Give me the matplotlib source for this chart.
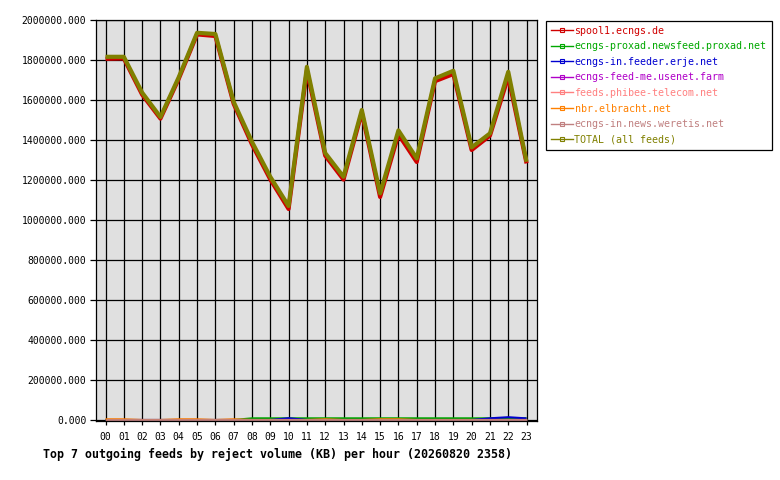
import matplotlib
matplotlib.use('Agg')
import matplotlib.pyplot as plt
from matplotlib.lines import Line2D
from matplotlib.ticker import FuncFormatter

# hourly reject volume (KB)
hours = ["00", "01", "02", "03", "04", "05", "06", "07", "08", "09", "10", "11",
         "12", "13", "14", "15", "16", "17", "18", "19", "20", "21", "22", "23"]

spool1 = [1806000, 1808000, 1627000, 1507000, 1706000, 1928000, 1920000, 1581000,
          1378000, 1203000, 1055000, 1748000, 1322000, 1202000, 1537000, 1115000,
          1428000, 1290000, 1694000, 1730000, 1350000, 1422000, 1716000, 1283000]
proxad = [0, 0, 0, 0, 0, 0, 0, 0, 8500, 8500, 8500, 8500,
          8500, 8500, 8500, 8500, 8500, 8500, 8500, 8500, 8500, 8500, 8500, 8500]
erje = [0, 0, 0, 0, 0, 0, 0, 0, 0, 0, 9000, 0,
        0, 0, 0, 0, 0, 0, 0, 0, 0, 8500, 14000, 8000]
feed_me = [0] * 24
phibee = [0] * 24
nbr = [3500, 3500, 0, 0, 3500, 3500, 0, 3500, 0, 0, 0, 0,
       3500, 0, 0, 3500, 3500, 0, 0, 0, 0, 0, 0, 0]
weretis = [500] * 24
total = [1816000, 1816000, 1637000, 1515000, 1714000, 1936000, 1930000, 1591000,
         1391000, 1216000, 1070000, 1766000, 1335000, 1216000, 1550000, 1133000,
         1448000, 1308000, 1708000, 1746000, 1363000, 1433000, 1741000, 1291000]

names = ["spool1.ecngs.de", "ecngs-proxad.newsfeed.proxad.net",
         "ecngs-in.feeder.erje.net", "ecngs-feed-me.usenet.farm",
         "feeds.phibee-telecom.net", "nbr.elbracht.net",
         "ecngs-in.news.weretis.net", "TOTAL (all feeds)"]
values = [spool1, proxad, erje, feed_me, phibee, nbr, weretis, total]
colors = ["#d00000", "#00a800", "#0000d0", "#b000c8",
          "#ff8080", "#ff8000", "#c08080", "#808000"]
widths = [3.0, 1.5, 1.5, 1.5, 1.5, 1.5, 2.0, 3.0]

title = "Top 7 outgoing feeds by reject volume (KB) per hour (20260820 2358)"

plt.rcParams['font.family'] = 'DejaVu Sans Mono'

W, H = 780, 480
fig = plt.figure(figsize=(W / 100, H / 100), dpi=100)
ax = fig.add_axes([96 / W, 1 - 421 / H, (537 - 96) / W, (421 - 20) / H])
ax.set_facecolor('#e0e0e0')

x = list(range(len(hours)))
for vals, c, lw in zip(values, colors, widths):
    ax.plot(x, vals, color=c, lw=lw, solid_capstyle='butt')

ax.set_xlim(-0.52, 23.57)
ax.set_ylim(-5000, 2000000)
ax.set_xticks(x)
ax.set_xticklabels(hours)
ax.set_yticks(range(0, 2000001, 200000))
ax.yaxis.set_major_formatter(FuncFormatter(lambda v, p: f"{v:.3f}"))

ax.set_axisbelow(True)
ax.grid(True, color='black', lw=0.9)
for s in ax.spines.values():
    s.set_color('black')
    s.set_linewidth(0.9)
ax.tick_params(axis='y', direction='out', length=4.5, width=0.9,
               labelsize=7, pad=2.5)
ax.tick_params(axis='x', direction='out', length=3, width=0.9,
               labelsize=7, pad=5)

fig.text(43 / W, 1 - 454 / H, title, fontsize=8.35, weight='bold',
         ha='left', va='center')

handles = [Line2D([], [], color=c, lw=1, marker='s', ms=2.5,
                  mfc='none', mew=0.8) for c in colors]
leg = ax.legend(handles, names, loc='upper left',
                bbox_to_anchor=(546 / W, 1 - 20.5 / H),
                bbox_transform=fig.transFigure, frameon=True, fancybox=False,
                edgecolor='black', framealpha=1, fontsize=7.2,
                handlelength=2.2, handletextpad=0.15, labelspacing=0.56,
                borderpad=0.5, borderaxespad=0, numpoints=1,
                labelcolor='linecolor')
leg.get_frame().set_linewidth(0.9)

fig.savefig('out.png', dpi=100)
